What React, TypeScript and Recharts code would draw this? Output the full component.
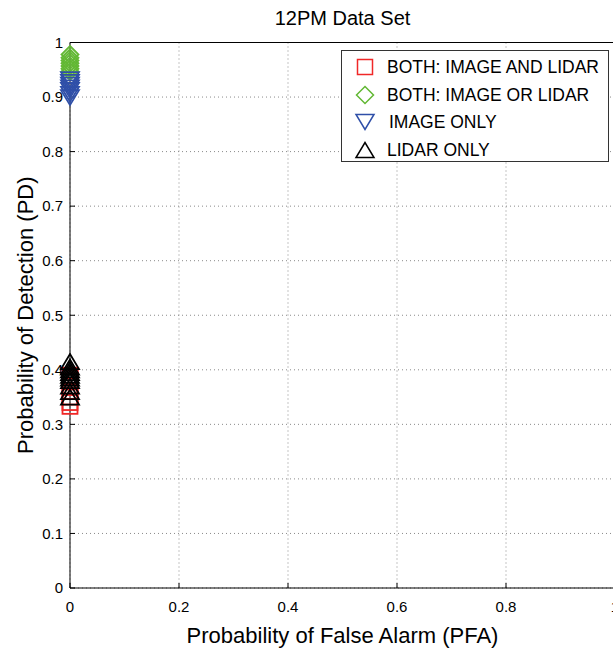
import React from 'react';
import { ScatterChart, Scatter, XAxis, YAxis, CartesianGrid, Legend } from 'recharts';

const FONT = '"Liberation Sans", Arial, Helvetica, sans-serif';

// Axis ticks
const pfaTicks = [0, 0.2, 0.4, 0.6, 0.8, 1];
const pdTicks = [0, 0.1, 0.2, 0.3, 0.4, 0.5, 0.6, 0.7, 0.8, 0.9, 1];

// BOTH: IMAGE AND LIDAR
const andPfa = [0, 0, 0, 0, 0, 0, 0, 0];
const andPd = [0.39, 0.385, 0.38, 0.37, 0.36, 0.35, 0.34, 0.333];

// BOTH: IMAGE OR LIDAR
const orPfa = [0, 0, 0, 0, 0, 0, 0];
const orPd = [0.978, 0.972, 0.967, 0.962, 0.957, 0.952, 0.947];

// IMAGE ONLY
const imagePfa = [0, 0, 0, 0, 0, 0, 0];
const imagePd = [0.932, 0.927, 0.922, 0.917, 0.912, 0.905, 0.899];

// LIDAR ONLY
const lidarPfa = [0, 0, 0, 0, 0, 0, 0, 0, 0, 0];
const lidarPd = [0.415, 0.405, 0.4, 0.395, 0.39, 0.385, 0.38, 0.37, 0.36, 0.35];

type Kind = 'square' | 'diamond' | 'down' | 'up';

const toRows = (pfa: number[], pd: number[]) => pd.map((v, i) => ({ pfa: pfa[i], pd: v }));

const series: { name: string; color: string; kind: Kind; data: { pfa: number; pd: number }[] }[] = [
  { name: 'BOTH: IMAGE AND LIDAR', color: '#f02828', kind: 'square', data: toRows(andPfa, andPd) },
  { name: 'BOTH: IMAGE OR LIDAR', color: '#62b834', kind: 'diamond', data: toRows(orPfa, orPd) },
  { name: 'IMAGE ONLY', color: '#2f4fa8', kind: 'down', data: toRows(imagePfa, imagePd) },
  { name: 'LIDAR ONLY', color: '#000000', kind: 'up', data: toRows(lidarPfa, lidarPd) },
];

function Marker({
  kind,
  cx,
  cy,
  color,
  lw = 1.5,
}: {
  kind: Kind;
  cx: number;
  cy: number;
  color: string;
  lw?: number;
}) {
  const common = { fill: 'none', stroke: color, strokeWidth: lw };
  if (kind === 'square') {
    return <rect x={cx - 7.5} y={cy - 7.5} width={15} height={15} {...common} />;
  }
  if (kind === 'diamond') {
    return (
      <polygon
        points={`${cx},${cy - 8.5} ${cx + 8.5},${cy} ${cx},${cy + 8.5} ${cx - 8.5},${cy}`}
        {...common}
      />
    );
  }
  if (kind === 'down') {
    return (
      <polygon points={`${cx - 9},${cy - 7.5} ${cx + 9},${cy - 7.5} ${cx},${cy + 7.5}`} {...common} />
    );
  }
  return <polygon points={`${cx - 9},${cy + 7.5} ${cx + 9},${cy + 7.5} ${cx},${cy - 7.5}`} {...common} />;
}

function LegendBox() {
  const rowY = [17, 45, 72, 100];
  return (
    <svg width={268} height={112} style={{ display: 'block' }}>
      <rect x={0.5} y={0.5} width={267} height={111} fill="#fff" stroke="#333" strokeWidth={1} />
      {series.map((s, i) => (
        <g key={s.name}>
          <Marker kind={s.kind} cx={24} cy={rowY[i]} color={s.color} />
          <text
            x={s.kind === 'down' ? 48 : 46}
            y={rowY[i]}
            dominantBaseline="central"
            fontFamily={FONT}
            fontSize={17.5}
            fill="#000"
          >
            {s.name}
          </text>
        </g>
      ))}
    </svg>
  );
}

const tickStyle = { fill: '#000', fontSize: 15, fontFamily: FONT };
const emptyTick = () => <g />;

export default function App() {
  return (
    <div
      style={{
        position: 'fixed',
        left: 0,
        top: 0,
        width: 613,
        height: 656,
        overflow: 'hidden',
        background: '#fff',
      }}
    >
      <ScatterChart width={640} height={656} margin={{ top: 41.5, right: 24, bottom: 67, left: 69 }}>
        <CartesianGrid stroke="#8a8a8a" strokeDasharray="1 3" />
        <XAxis
          dataKey="pfa"
          type="number"
          domain={[0, 1]}
          ticks={pfaTicks}
          height={1}
          tickSize={-5}
          tickMargin={18}
          axisLine={{ stroke: '#000' }}
          tickLine={{ stroke: '#000' }}
          tick={tickStyle}
          label={{
            content: (p: any) => {
              const vb = p.viewBox;
              return (
                <text
                  x={vb.x + vb.width / 2}
                  y={vb.y + 39}
                  textAnchor="middle"
                  dominantBaseline="hanging"
                  fontFamily={FONT}
                  fontSize={22}
                  fill="#000"
                >
                  Probability of False Alarm (PFA)
                </text>
              );
            },
          }}
        />
        <XAxis
          xAxisId="top"
          orientation="top"
          type="number"
          domain={[0, 1]}
          ticks={pfaTicks}
          height={1}
          tickSize={-5}
          axisLine={{ stroke: '#000' }}
          tickLine={{ stroke: '#000' }}
          tick={emptyTick}
          label={{
            content: (p: any) => {
              const vb = p.viewBox;
              return (
                <text
                  x={vb.x + vb.width / 2}
                  y={vb.y + vb.height - 18}
                  textAnchor="middle"
                  fontFamily={FONT}
                  fontSize={20}
                  fill="#000"
                >
                  12PM Data Set
                </text>
              );
            },
          }}
        />
        <YAxis
          dataKey="pd"
          type="number"
          domain={[0, 1]}
          ticks={pdTicks}
          width={1}
          tickSize={-5}
          tickMargin={12}
          axisLine={{ stroke: '#000' }}
          tickLine={{ stroke: '#000' }}
          tick={tickStyle}
          label={{
            content: (p: any) => {
              const vb = p.viewBox;
              const cx = vb.x + vb.width - 45;
              const cy = vb.y + vb.height / 2;
              return (
                <text
                  x={cx}
                  y={cy}
                  transform={`rotate(-90, ${cx}, ${cy})`}
                  textAnchor="middle"
                  dominantBaseline="central"
                  fontFamily={FONT}
                  fontSize={22}
                  fill="#000"
                >
                  Probability of Detection (PD)
                </text>
              );
            },
          }}
        />
        <YAxis
          yAxisId="right"
          orientation="right"
          type="number"
          domain={[0, 1]}
          ticks={pdTicks}
          width={1}
          tickSize={-5}
          axisLine={{ stroke: '#000' }}
          tickLine={{ stroke: '#000' }}
          tick={emptyTick}
        />
        {series.map((s) => (
          <Scatter
            key={s.name}
            name={s.name}
            data={s.data}
            fill={s.color}
            isAnimationActive={false}
            shape={(p: any) => <Marker kind={s.kind} cx={p.cx} cy={p.cy} color={s.color} lw={1.8} />}
          />
        ))}
        <Legend
          layout="vertical"
          align="center"
          verticalAlign="middle"
          wrapperStyle={{ left: 341, top: 50, width: 268, height: 112 }}
          content={() => <LegendBox />}
        />
      </ScatterChart>
    </div>
  );
}
